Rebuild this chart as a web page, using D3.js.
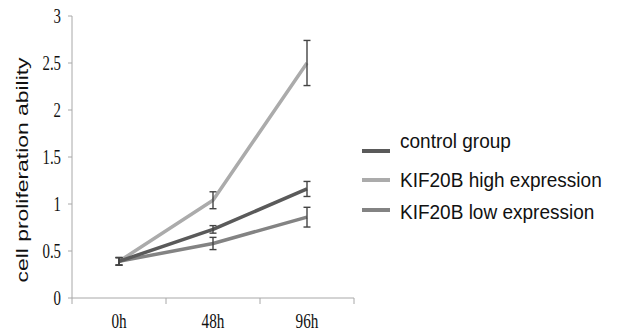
<!DOCTYPE html>
<html><head><meta charset="utf-8">
<script src="https://cdn.jsdelivr.net/npm/d3@7"></script>
<style>body{margin:0;background:#fff}svg{display:block}</style>
</head><body>
<svg id="c" width="617" height="331"></svg>
<script>
const categories = ["0h", "48h", "96h"];
const seriesNames = ["control group", "KIF20B high expression", "KIF20B low expression"];
const controlValues = [0.39, 0.73, 1.16];
const controlErr = [0.04, 0.04, 0.08];
const highValues = [0.39, 1.04, 2.50];
const highErr = [0.04, 0.09, 0.24];
const lowValues = [0.39, 0.58, 0.86];
const lowErr = [0.04, 0.065, 0.105];
const yTicks = [0, 0.5, 1, 1.5, 2, 2.5, 3];
const yTitle = "cell proliferation ability";

const series = [
  {name: seriesNames[0], values: controlValues, err: controlErr, color: "#5a5a5a"},
  {name: seriesNames[1], values: highValues, err: highErr, color: "#ababab"},
  {name: seriesNames[2], values: lowValues, err: lowErr, color: "#838383"}
];

const svg = d3.select("#c");
const x = d3.scaleBand().domain(categories).range([72, 354]);
const y = d3.scaleLinear().domain([0, 3]).range([298, 16]);
const cx = c => x(c) + x.bandwidth() / 2;
const axisColor = "#a8a8a8";
const textColor = "#111";

function squeeze(sel, sx) {
  sel.each(function(){
    const L = this.getComputedTextLength();
    d3.select(this).attr("textLength", L * sx).attr("lengthAdjust", "spacingAndGlyphs");
  });
}

// y axis
const gy = svg.append("g");
gy.append("line").attr("x1", 72).attr("x2", 72).attr("y1", y(3)).attr("y2", y(0)).attr("stroke", axisColor);
gy.selectAll("line.t").data(yTicks).join("line").attr("class","t")
  .attr("x1", 68).attr("x2", 72).attr("y1", d => y(d)).attr("y2", d => y(d)).attr("stroke", axisColor);
const yl = gy.selectAll("text").data(yTicks).join("text")
  .attr("x", 61).attr("y", d => y(d) + 6.5).attr("text-anchor", "end")
  .attr("font-family", "Liberation Serif").attr("font-size", 20).attr("fill", textColor)
  .text(d => d);
squeeze(yl, 0.74);

// x axis
const gx = svg.append("g");
gx.append("line").attr("x1", 72).attr("x2", 354).attr("y1", 298).attr("y2", 298).attr("stroke", axisColor);
const bounds = categories.map(c => x(c)).concat([x(categories[categories.length-1]) + x.bandwidth()]);
gx.selectAll("line.t").data(bounds).join("line").attr("class","t")
  .attr("x1", d => d).attr("x2", d => d).attr("y1", 298).attr("y2", 304).attr("stroke", axisColor);
const xl = gx.selectAll("text").data(categories).join("text")
  .attr("x", d => cx(d)).attr("y", 328).attr("text-anchor", "middle")
  .attr("font-family", "Liberation Serif").attr("font-size", 20).attr("fill", textColor)
  .text(d => d);
squeeze(xl, 0.76);

// y title
svg.append("text").attr("transform", "translate(28,170) rotate(-90)")
  .attr("text-anchor", "middle").attr("font-family", "Liberation Sans").attr("font-size", 16)
  .attr("fill", textColor).attr("textLength", 225).attr("lengthAdjust", "spacingAndGlyphs")
  .text(yTitle);

// lines
const line = d3.line().x((d, i) => cx(categories[i])).y(d => y(d));
const drawOrder = [series[1], series[2], series[0]];
svg.append("g").selectAll("path").data(drawOrder).join("path")
  .attr("d", s => line(s.values)).attr("fill", "none").attr("stroke", s => s.color)
  .attr("stroke-width", 3.5).attr("stroke-linejoin", "round");

// error bars
const eg = svg.append("g").attr("stroke", "#444").attr("stroke-width", 1.4);
series.forEach(s => {
  s.values.forEach((v, i) => {
    const px = cx(categories[i]);
    const t = y(v + s.err[i]), b = y(v - s.err[i]);
    eg.append("line").attr("x1", px).attr("x2", px).attr("y1", t).attr("y2", b);
    eg.append("line").attr("x1", px - 3.5).attr("x2", px + 3.5).attr("y1", t).attr("y2", t);
    eg.append("line").attr("x1", px - 3.5).attr("x2", px + 3.5).attr("y1", b).attr("y2", b);
  });
});

// legend
const legLineY = [151, 180, 210];
const legTextY = [148, 187, 219];
const lg = svg.append("g");
series.forEach((s, i) => {
  lg.append("line").attr("x1", 362).attr("x2", 390).attr("y1", legLineY[i]).attr("y2", legLineY[i])
    .attr("stroke", s.color).attr("stroke-width", 4);
  const t = lg.append("text").attr("x", 400).attr("y", legTextY[i])
    .attr("font-family", "Liberation Sans").attr("font-size", 20).attr("fill", textColor).text(s.name);
  squeeze(t, 0.95);
});
</script>
</body></html>
